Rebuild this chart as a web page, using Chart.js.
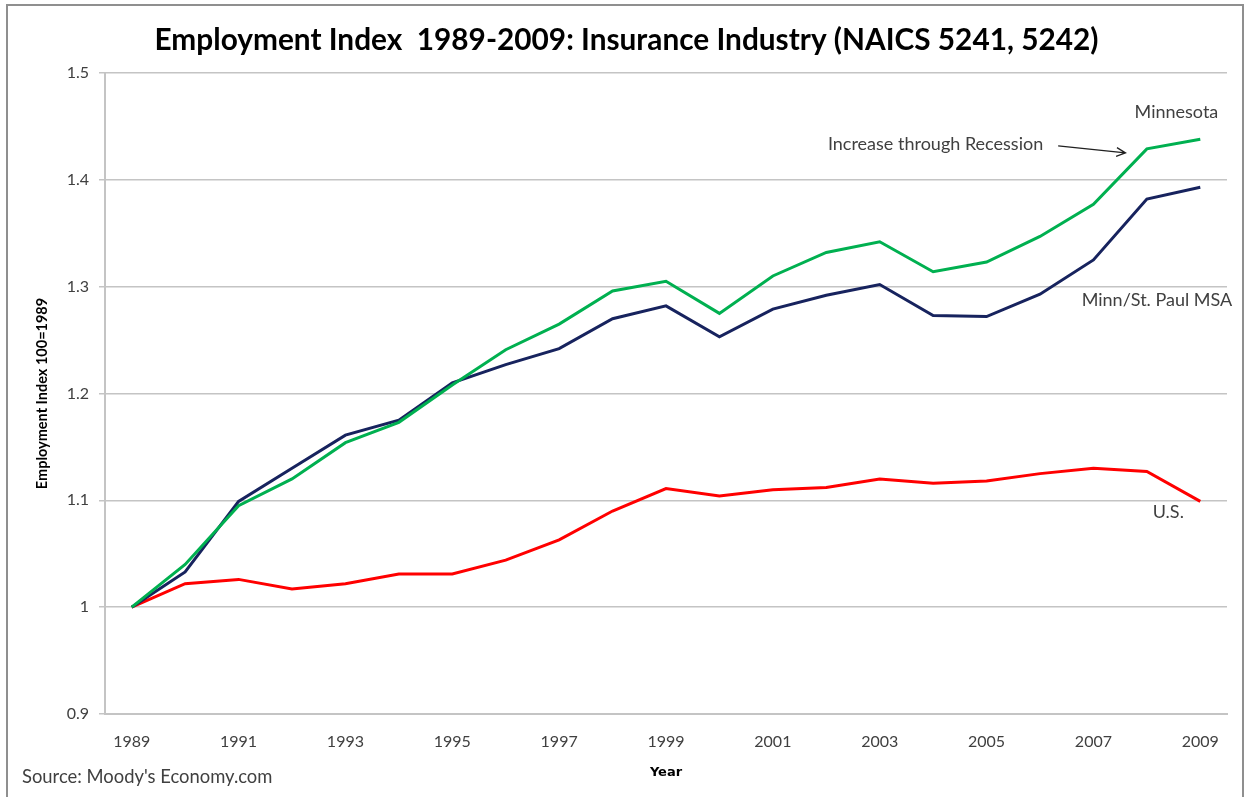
<!DOCTYPE html>
<html>
<head>
<meta charset="utf-8">
<script src="https://cdn.jsdelivr.net/npm/chart.js@4/dist/chart.umd.min.js"></script>
<style>
  html, body { margin: 0; padding: 0; background: #ffffff; }
  #wrap { position: relative; width: 1245px; height: 797px; }
  canvas { display: block; }
</style>
</head>
<body>
<div id="wrap"><canvas id="c" width="1245" height="797"></canvas></div>
<script>
// ---- data ----
const years = ['1989','1990','1991','1992','1993','1994','1995','1996','1997','1998','1999',
               '2000','2001','2002','2003','2004','2005','2006','2007','2008','2009'];
const minnesota = [1.000,1.040,1.095,1.120,1.154,1.173,1.208,1.241,1.265,1.296,1.305,
                   1.275,1.310,1.332,1.342,1.314,1.323,1.347,1.377,1.429,1.438];
const minnStPaulMSA = [1.000,1.033,1.099,1.130,1.161,1.175,1.210,1.227,1.242,1.270,1.282,
                       1.253,1.279,1.292,1.302,1.273,1.272,1.293,1.325,1.382,1.393];
const us = [1.000,1.022,1.026,1.017,1.022,1.031,1.031,1.044,1.063,1.090,1.111,
            1.104,1.110,1.112,1.120,1.116,1.118,1.125,1.130,1.127,1.099];
const yTicks = [0.9, 1.0, 1.1, 1.2, 1.3, 1.4, 1.5];

const titleText = 'Employment Index  1989-2009: Insurance Industry (NAICS 5241, 5242)';
const sourceText = "Source: Moody's Economy.com";
// annotation anchors in data units (category index, value)
const labels = [
  { text: 'Minnesota', x: 18.77, y: 1.4629 },
  { text: 'Increase through Recession', x: 13.03, y: 1.4334 },
  { text: 'Minn/St. Paul MSA', x: 17.78, y: 1.2872 },
  { text: 'U.S.', x: 19.11, y: 1.0891 }
];
const arrow = { from: { x: 17.34, y: 1.4318 }, to: { x: 18.60, y: 1.4252 } };

const textColor = '#404040';
const gridColor = '#c4c4c4';

const extras = {
  id: 'extras',
  beforeDraw(chart) {
    const ctx = chart.ctx;
    ctx.save();
    ctx.fillStyle = '#ffffff';
    ctx.fillRect(0, 0, chart.width, chart.height);
    ctx.restore();
  },
  afterDraw(chart) {
    const ctx = chart.ctx;
    const xs = chart.scales.x, ys = chart.scales.y;
    const px = v => xs.getPixelForValue(0) + v * (xs.getPixelForValue(1) - xs.getPixelForValue(0));
    ctx.save();
    // frame
    ctx.strokeStyle = '#8f8f8f';
    ctx.lineWidth = 2;
    ctx.beginPath();
    ctx.moveTo(7, chart.height);
    ctx.lineTo(7, 5);
    ctx.lineTo(1243, 5);
    ctx.lineTo(1243, chart.height);
    ctx.stroke();
    // title
    ctx.fillStyle = '#000000';
    ctx.font = 'bold 29.8px Lato';
    ctx.textAlign = 'center';
    ctx.textBaseline = 'middle';
    ctx.fillText(titleText, 626.5, 40);
    // annotations
    ctx.fillStyle = textColor;
    ctx.font = '18px Lato';
    ctx.textBaseline = 'middle';
    ctx.textAlign = 'left';
    labels.forEach(l => ctx.fillText(l.text, px(l.x), ys.getPixelForValue(l.y)));
    // arrow
    const x1 = px(arrow.from.x), y1 = ys.getPixelForValue(arrow.from.y);
    const x2 = px(arrow.to.x), y2 = ys.getPixelForValue(arrow.to.y);
    ctx.strokeStyle = '#202020';
    ctx.lineWidth = 1.3;
    ctx.beginPath();
    ctx.moveTo(x1, y1); ctx.lineTo(x2, y2);
    const a = Math.atan2(y2 - y1, x2 - x1);
    ctx.moveTo(x2 - 10 * Math.cos(a - 0.45), y2 - 10 * Math.sin(a - 0.45));
    ctx.lineTo(x2, y2);
    ctx.lineTo(x2 - 10 * Math.cos(a + 0.45), y2 - 10 * Math.sin(a + 0.45));
    ctx.stroke();
    // source
    ctx.font = '18.4px Lato';
    ctx.fillStyle = textColor;
    ctx.fillText(sourceText, 22, 777);
    ctx.restore();
  }
};

new Chart(document.getElementById('c'), {
  type: 'line',
  data: {
    labels: years,
    datasets: [
      { label: 'Minnesota', data: minnesota, borderColor: '#00b050', borderWidth: 3, pointRadius: 0, tension: 0, fill: false },
      { label: 'Minn/St. Paul MSA', data: minnStPaulMSA, borderColor: '#17235e', borderWidth: 3, pointRadius: 0, tension: 0, fill: false },
      { label: 'U.S.', data: us, borderColor: '#ff0000', borderWidth: 3, pointRadius: 0, tension: 0, fill: false }
    ]
  },
  options: {
    responsive: false,
    animation: false,
    layout: { padding: { left: 0, right: 18, top: 73, bottom: 0 } },
    plugins: {
      legend: { display: false },
      tooltip: { enabled: false },
      title: { display: false }
    },
    scales: {
      x: {
        type: 'category',
        offset: true,
        grid: { display: false, drawTicks: false },
        border: { display: true, color: gridColor, width: 2 },
        ticks: {
          autoSkip: false, maxRotation: 0, color: textColor, padding: 18,
          font: { family: 'Lato', size: 16 },
          callback: function (val, i) { return i % 2 === 0 ? years[i] : ''; }
        },
        title: {
          display: true, text: 'Year', color: '#000000',
          font: { family: 'DejaVu Sans', size: 13, weight: 'bold', lineHeight: 1.2 },
          padding: { top: 0, bottom: 17 }
        },
        afterFit(scale) { scale.height = 83; }
      },
      y: {
        min: 0.9, max: 1.5,
        afterBuildTicks(scale) { scale.ticks = yTicks.map(v => ({ value: v })); },
        grid: { color: gridColor, lineWidth: 1.5, tickLength: 6, drawTicks: true },
        border: { display: true, color: gridColor, width: 2 },
        ticks: {
          color: textColor, padding: 10,
          font: { family: 'Lato', size: 16 },
          callback: v => String(Number(v.toFixed(1)))
        },
        title: {
          display: true, text: 'Employment Index 100=1989', color: '#000000',
          font: { family: 'Lato', size: 14.5, weight: 'bold', lineHeight: 1.2 },
          padding: { top: 33.5, bottom: 0 }
        },
        afterFit(scale) { scale.width = 105; }
      }
    }
  },
  plugins: [extras]
});
</script>
</body>
</html>
